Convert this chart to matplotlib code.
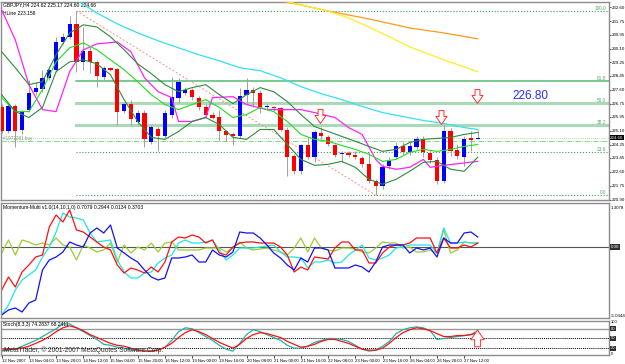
import numpy as np
import matplotlib.pyplot as plt
from matplotlib.path import Path

plt.rcParams['font.family'] = ['Liberation Sans', 'DejaVu Sans']

# GBPJPY H4 bars (open, high, low, close)
opens = [226.51, 225.05, 226.63, 225.17, 226.38, 227.47, 227.66, 228.32, 228.81, 230.50,
         230.81, 231.60, 229.29, 229.96, 229.29, 228.38, 228.93, 228.87, 226.32, 226.75,
         225.60, 226.20, 224.38, 225.23, 224.75, 226.08, 227.11, 227.41, 227.60, 227.11,
         226.57, 226.08, 225.96, 225.05, 224.87, 224.75, 227.29, 227.60, 227.41, 226.51,
         226.57, 226.45, 225.17, 223.54, 222.63, 224.20, 223.48, 224.93, 224.69, 224.20,
         223.66, 223.72, 223.60, 223.42, 223.05, 222.02, 221.72, 222.93, 223.48, 224.14,
         223.78, 224.08, 224.57, 223.72, 223.29, 222.02, 225.05, 223.90, 223.48, 224.63,
         224.62]
highs = [226.75, 226.75, 226.75, 226.38, 228.20, 228.08, 228.81, 229.05, 230.81, 231.05,
         232.08, 232.38, 231.41, 230.20, 229.41, 229.05, 228.99, 228.93, 226.81, 226.99,
         226.38, 226.38, 225.47, 225.35, 226.38, 228.38, 228.32, 227.78, 227.72, 227.23,
         226.75, 226.26, 226.38, 225.17, 224.99, 227.72, 228.32, 227.78, 227.60, 226.75,
         226.63, 226.57, 225.35, 223.66, 224.26, 224.69, 225.17, 225.35, 224.81, 224.26,
         223.84, 223.84, 223.84, 223.54, 223.78, 222.14, 223.05, 223.48, 224.38, 224.38,
         224.38, 224.75, 224.75, 223.90, 223.48, 225.47, 225.29, 224.26, 224.75, 225.05,
         225.17]
lows = [224.93, 224.93, 224.08, 224.87, 226.26, 227.29, 227.47, 228.20, 228.69, 230.38,
        230.69, 228.69, 228.81, 228.63, 227.78, 228.20, 228.75, 225.47, 226.20, 225.47,
        225.47, 224.08, 224.26, 223.84, 224.63, 225.90, 226.81, 227.29, 226.99, 226.38,
        225.90, 225.78, 224.45, 224.45, 224.20, 224.63, 226.81, 226.57, 226.20, 226.38,
        226.32, 225.05, 222.32, 222.45, 222.45, 223.35, 223.17, 224.57, 224.14, 223.48,
        223.17, 223.48, 223.35, 222.87, 221.90, 221.17, 221.54, 222.75, 223.35, 223.60,
        223.60, 223.96, 223.48, 223.11, 221.84, 221.90, 223.54, 223.35, 222.93, 223.84,
        224.60]
closes = [225.05, 226.63, 225.05, 226.26, 227.41, 227.72, 228.32, 228.81, 230.50, 230.81,
          231.60, 229.29, 229.96, 229.29, 228.44, 228.93, 228.81, 226.26, 226.75, 225.78,
          226.20, 224.57, 225.35, 224.75, 226.20, 227.17, 228.08, 227.60, 227.17, 226.57,
          226.08, 225.90, 225.05, 224.81, 224.75, 227.23, 227.60, 227.41, 226.57, 226.63,
          226.45, 225.17, 223.48, 222.63, 224.20, 223.48, 224.99, 224.75, 224.26, 223.60,
          223.72, 223.60, 223.48, 223.05, 222.02, 221.72, 222.87, 223.23, 224.14, 223.78,
          224.14, 224.57, 223.78, 223.29, 222.02, 225.05, 223.84, 223.54, 224.57, 224.51,
          224.66]

# band lines (every second bar)
band_bars = list(range(0, 71, 2))
band_upper = [229.90, 228.93, 227.90, 228.08, 229.72, 231.05, 231.54, 231.41, 230.81, 230.02,
              229.17, 228.57, 227.90, 227.47, 227.72, 227.90, 227.29, 226.75, 227.29, 227.72,
              227.47, 226.87, 226.08, 225.35, 225.05, 224.75, 224.45, 224.14, 223.84, 223.96,
              224.38, 224.57, 224.63, 224.69, 224.87, 224.99]
band_mid = [227.11, 226.26, 226.26, 227.60, 229.29, 230.14, 230.44, 230.02, 229.41, 228.81,
            228.08, 227.29, 226.69, 226.38, 226.69, 226.99, 226.51, 225.90, 226.08, 226.51,
            226.26, 225.66, 224.87, 224.57, 224.45, 224.20, 223.96, 223.66, 223.23, 223.35,
            223.78, 223.96, 223.84, 223.96, 224.14, 224.26]
band_lower = [227.29, 226.26, 225.90, 226.51, 228.69, 229.29, 229.41, 229.17, 228.50, 226.99,
              225.66, 224.69, 224.57, 225.05, 225.66, 225.90, 225.47, 224.69, 224.57, 225.17,
              225.17, 224.26, 223.35, 222.99, 223.05, 223.23, 222.87, 222.14, 221.84, 222.14,
              222.63, 223.17, 223.23, 222.75, 222.63, 223.48]

magenta_bars = [0, 2, 4, 6, 8, 10, 12, 14, 17, 19, 21, 23, 25, 26, 28, 30, 31, 34, 36, 39,
                44, 46, 49, 51, 53, 55, 56, 58, 60, 62, 63, 65, 70]
magenta_vals = [232.44, 230.63, 227.90, 226.38, 226.26, 228.69, 230.02, 230.38, 230.50, 229.90,
                228.32, 227.47, 227.11, 225.66, 225.66, 225.90, 227.11, 227.17, 226.69, 226.38,
                226.38, 226.20, 225.90, 225.29, 224.87, 223.35, 222.93, 222.75, 222.87, 223.35,
                222.87, 222.99, 223.23]

cyan_bars = [10, 11, 14, 17, 20, 23, 26, 29, 32, 35, 38, 41, 44, 47, 50, 53, 56, 59, 62, 65, 68, 70]
cyan_vals = [233.53, 233.05, 232.26, 231.60, 231.05, 230.57, 230.14, 229.72, 229.35, 228.93,
             228.75, 228.32, 227.78, 227.35, 226.99, 226.57, 226.20, 225.96, 225.72, 225.54,
             225.29, 225.17]

orange_bars = [38, 41, 44, 48, 54, 60, 65, 70]
orange_vals = [233.23, 232.99, 232.75, 232.38, 231.90, 231.35, 231.05, 230.69]

yellow_bars = [40, 44, 48, 51, 54, 57, 60, 65, 70]
yellow_vals = [233.17, 232.75, 232.38, 231.96, 231.41, 230.81, 230.20, 229.41, 228.69]

price_ticks = [232.60, 231.75, 230.95, 230.10, 229.25, 228.45, 227.60, 226.75,
               225.95, 225.10, 224.25, 223.45, 222.60, 221.75, 220.90]

fib_high, fib_high_bar = 232.38, 11
fib_low, fib_low_bar = 221.17, 55
fib_ratios = [1.0, 0.618, 0.5, 0.382, 0.236, 0.0]
fib_names = ['100.0', '61.8', '50.0', '38.2', '23.6', '0.0']

bid = 224.66
order_price = 224.45
arrow_bars = [46.8, 64.6, 69.9]
arrow_prices = [225.99, 225.93, 227.23]

# Momentum-Multi lines
mom_red = [-1.72, -1.20, -1.60, -1.00, -0.72, -0.40, -0.32, 0.80, 1.28, 1.00,
           1.48, 0.68, 0.60, 0.40, 0.20, 0.00, -0.12, -0.72, -1.04, -0.84,
           -0.92, -1.04, -0.80, -1.00, -0.60, 0.20, 0.40, 0.36, 0.48, 0.40,
           0.16, 0.28, -0.24, -0.32, 0.00, 0.16, 0.20, 0.20, 0.16, 0.16,
           0.16, 0.00, -0.32, -1.00, -0.80, -0.92, -0.40, -0.44, -0.48, -0.04,
           0.20, 0.20, -0.12, -0.12, -0.64, -0.64, -0.24, 0.00, 0.08, 0.08,
           0.16, 0.36, 0.36, 0.36, -0.24, 0.36, -0.04, -0.04, 0.08, 0.00, 0.16]
mom_cyan = [-2.72, -2.32, -1.72, -1.32, -1.12, -0.92, -0.40, 0.00, 0.60, 1.36,
            1.20, 1.16, 1.08, 0.56, 0.20, 0.24, 0.28, -0.52, -1.00, -1.24,
            -1.24, -1.04, -1.00, -0.64, -0.44, -0.32, 0.16, 0.28, 0.16, 0.16,
            0.20, 0.28, -0.12, -0.52, -0.32, -0.04, -0.04, -0.04, 0.00, 0.04,
            0.08, -0.20, -0.40, -0.40, -0.44, -0.84, -0.60, -0.60, -0.52, -0.64,
            -0.60, -0.32, -0.12, 0.08, -0.44, -0.52, -0.44, -0.32, -0.04, 0.00,
            0.08, 0.08, 0.08, 0.08, -0.24, 0.76, 0.16, 0.16, 0.20, 0.16, 0.16]
mom_blue = [-2.72, -2.52, -2.44, -2.60, -2.24, -2.12, -0.92, -0.52, -0.40, -0.20,
            0.20, 0.08, 0.00, 0.56, 0.76, 0.56, 0.88, -0.04, -0.24, -0.44,
            -0.60, -0.92, -1.20, -1.32, -1.24, -0.44, -0.44, -0.40, -0.32, -0.60,
            -0.60, -0.12, -0.32, -0.40, -0.20, 0.60, 0.56, 0.56, 0.36, 0.08,
            -0.24, -0.44, -0.72, -0.92, -0.44, -0.60, -0.04, -0.04, -0.12, -0.84,
            -0.84, -0.84, -0.72, -0.80, -1.00, -0.60, 0.00, 0.08, 0.08, 0.08,
            -0.24, -0.04, -0.12, -0.04, -0.40, 0.36, 0.16, 0.16, 0.56, 0.60, 0.40]
mom_olive = [-0.24, 0.28, -0.32, 0.28, 0.20, 0.08, 0.16, 0.08, 0.36, 0.08,
             0.00, -0.52, 0.08, -0.04, -0.20, -0.12, 0.16, -0.60, 0.08, -0.24,
             0.00, -0.12, 0.16, -0.20, 0.16, 0.20, -0.12, -0.12, -0.12, -0.12,
             -0.04, -0.04, -0.04, -0.20, -0.04, 0.20, -0.04, -0.12, -0.08, -0.04,
             -0.12, -0.20, -0.32, -0.04, 0.36, -0.20, 0.36, -0.04, -0.12, -0.16,
             -0.04, -0.04, -0.08, -0.20, -0.24, -0.04, 0.20, 0.16, 0.16, -0.04,
             0.00, -0.20, -0.20, -0.12, -0.24, 0.68, -0.24, -0.12, 0.20, 0.16, 0.16]

# Stochastic(8,3,3)
stoch_main = [11, 14, 17, 26, 35, 44, 56, 68, 80, 95, 95, 83, 71, 59, 47, 32, 29, 23, 20, 14,
              14, 11, 11, 14, 23, 44, 71, 83, 80, 68, 56, 44, 29, 17, 11, 35, 62, 77, 71, 62,
              53, 44, 29, 20, 20, 26, 38, 44, 50, 50, 47, 41, 29, 17, 11, 14, 26, 41, 65, 77,
              83, 86, 83, 74, 47, 50, 53, 56, 59, 62, 74]
stoch_signal = [14, 17, 17, 20, 26, 35, 44, 56, 71, 83, 89, 83, 74, 62, 53, 44, 35, 29, 26, 20,
                14, 11, 11, 14, 23, 35, 53, 68, 77, 71, 62, 50, 38, 29, 20, 32, 50, 62, 68, 65,
                59, 53, 41, 32, 23, 26, 32, 41, 47, 47, 41, 35, 26, 17, 14, 14, 20, 35, 53, 68,
                77, 83, 80, 74, 65, 56, 56, 59, 59, 62, 68]

date_labels = ['12 Nov 2007', '13 Nov 04:00', '13 Nov 20:00', '14 Nov 12:00', '15 Nov 04:00',
               '15 Nov 20:00', '16 Nov 12:00', '19 Nov 00:00', '19 Nov 16:00', '20 Nov 08:00',
               '21 Nov 00:00', '21 Nov 16:00', '22 Nov 08:00', '23 Nov 00:00', '23 Nov 16:00',
               '26 Nov 04:00', '26 Nov 20:00', '27 Nov 12:00']

W, H = 625, 364
fs = 3.6
frame = '#8c8c8c'


def box(top, bottom, left=1, right=609):
    return [left / W, 1 - bottom / H, (right - left) / W, (bottom - top) / H]


fig = plt.figure(figsize=(W / 100, H / 100), dpi=100)
ax = fig.add_axes(box(2, 200))
axm = fig.add_axes(box(203, 318), sharex=ax)
axs = fig.add_axes(box(321, 355), sharex=ax)

bars = np.arange(len(closes))
o, h, l, c = map(np.array, (opens, highs, lows, closes))

# fibonacci levels
span = fib_high - fib_low
fib_styles = [(':', '#3c9a55', 0.8), ('-', '#55bb70', 1.1), ('-', '#a8dab5', 2.2),
              ('-', '#a8dab5', 2.2), (':', '#3c9a55', 0.8), (':', '#3c9a55', 0.8)]
for r, name, (ls, col, lw) in zip(fib_ratios, fib_names, fib_styles):
    lev = fib_low + r * span
    ax.plot([fib_high_bar, 90], [lev, lev], ls=ls, color=col, lw=lw, zorder=1)
    ax.text(88.9, lev, name, ha='right', va='bottom', fontsize=3.4, color='#55aa66', zorder=6)
ax.plot([fib_high_bar, fib_low_bar], [fib_high, fib_low], ls=(0, (2, 2)), color='#ff8c8c',
        lw=0.7, zorder=1)

# bid and order lines
ax.axhline(bid, color='#b4b4b4', ls=(0, (1, 1.5)), lw=0.6, zorder=1)
ax.axhline(order_price, color='#66dd66', ls='-.', lw=0.6, zorder=1)
ax.text(0.2, order_price + 0.05, '#1972261 buy', fontsize=3.3, color='#7a9a7a', va='bottom')

# candles
up = c >= o
ax.vlines(bars, l, h, color='#a0a0a0', lw=0.7, zorder=2)
body_lo = np.minimum(o, c)
body_h = np.maximum(np.abs(c - o), 0.05)
ax.bar(bars[up], body_h[up], bottom=body_lo[up], width=0.62, color='#0000ff', zorder=3)
ax.bar(bars[~up], body_h[~up], bottom=body_lo[~up], width=0.62, color='#ff0000', zorder=3)

# moving averages / bands
ax.plot(cyan_bars, cyan_vals, color='#33e0f0', lw=0.9, zorder=4)
ax.plot(orange_bars, orange_vals, color='#ff9a1a', lw=0.9, zorder=4)
ax.plot(yellow_bars, yellow_vals, color='#ffee22', lw=0.9, zorder=4)
ax.plot(magenta_bars, magenta_vals, color='#ff22ff', lw=0.9, zorder=4)
ax.plot(band_bars, band_upper, color='#2e8b3a', lw=0.8, zorder=4)
ax.plot(band_bars, band_mid, color='#22dd22', lw=0.8, zorder=4)
ax.plot(band_bars, band_lower, color='#2e8b3a', lw=0.8, zorder=4)

# arrows
down = Path([(-0.35, 1), (0.35, 1), (0.35, 0.15), (0.8, 0.15), (0, -1),
             (-0.8, 0.15), (-0.35, 0.15), (-0.35, 1)], closed=True)
ax.plot(arrow_bars, arrow_prices, ls='none', marker=down, markersize=10,
        markerfacecolor='white', markeredgecolor='#ff3030', markeredgewidth=0.7, zorder=6)
ax.text(77.7, 227.2, '226.80', color='#2a2aff', fontsize=8.5, ha='center', va='center')

ax.text(0.003, 0.997, 'GBPJPY,H4 224.62 225.17 224.60 224.66', transform=ax.transAxes,
        fontsize=fs, va='top', ha='left')
ax.text(0.003, 0.957, 'HLine 223.158', transform=ax.transAxes, fontsize=fs,
        va='top', ha='left')

ax.set_xlim(-0.1, 89.3)
ax.set_ylim(220.88, 232.93)
ax.yaxis.tick_right()
ax.set_yticks(price_ticks)
ax.set_yticklabels(['%.2f' % p for p in price_ticks])
ax.text(1.002, bid, '%.2f' % bid, transform=ax.get_yaxis_transform(), fontsize=3.2,
        color='white', va='center', ha='left',
        bbox=dict(facecolor='black', edgecolor='none', pad=0.4), zorder=7)

# momentum panel
axm.axhline(0, color='#555555', lw=0.8)
axm.plot(bars, mom_olive, color='#9acd32', lw=0.9)
axm.plot(bars, mom_cyan, color='#22e5e5', lw=0.9)
axm.plot(bars, mom_red, color='#ff1010', lw=0.9)
axm.plot(bars, mom_blue, color='#1010ff', lw=0.9)
axm.set_ylim(-2.84, 1.76)
axm.set_yticks([])
axm.text(0.003, 0.985, 'Momentum-Multi v1.0(14,10,1,0) 0.7079 0.2944 0.0134 0.3703',
         transform=axm.transAxes, fontsize=fs, va='top', ha='left')
axm.text(1.003, 0.97, '1.3078', transform=axm.transAxes, fontsize=3.2, va='top')
axm.text(1.003, 0, '0.00', transform=axm.get_yaxis_transform(), fontsize=3.2, va='center',
         color='white', bbox=dict(facecolor='#303030', edgecolor='none', pad=0.4))
axm.text(1.003, 0.0, '-5.0344', transform=axm.transAxes, fontsize=3.2, va='bottom')

# stochastic panel
axs.axhline(80, color='#9a9a9a', lw=1.0)
axs.axhline(50, color='black', ls=(0, (1, 1)), lw=0.7)
axs.axhline(20, color='black', ls=(0, (1, 1)), lw=0.7)
axs.plot(bars, stoch_main, color='#20b2aa', lw=0.9)
axs.plot(bars, stoch_signal, color='#ff1010', lw=0.9)
up_arrow = Path([(-0.35, -1), (0.35, -1), (0.35, -0.15), (0.8, -0.15), (0, 1),
                 (-0.8, -0.15), (-0.35, -0.15), (-0.35, -1)], closed=True)
axs.plot([69.9], [50], ls='none', marker=up_arrow, markersize=12, markerfacecolor='white',
         markeredgecolor='#ff3030', markeredgewidth=0.7, zorder=6)
axs.set_ylim(-1, 104)
axs.set_yticks([])
axs.text(0.003, 0.97, 'Stoch(8,3,3) 74.2837 68.2411', transform=axs.transAxes,
         fontsize=fs, va='top', ha='left')
for lev in (80, 50, 20):
    axs.text(1.003, lev, str(lev), transform=axs.get_yaxis_transform(), fontsize=3.0,
             va='center', color='white',
             bbox=dict(facecolor='#303030', edgecolor='none', pad=0.3))
axs.text(1.003, 100, '100', transform=axs.get_yaxis_transform(), fontsize=3.0, va='center')
axs.text(1.003, 2, '0', transform=axs.get_yaxis_transform(), fontsize=3.0, va='center')
fig.text(4 / W, 1 - 354 / H, 'MetaTrader, \u00a9 2001-2007 MetaQuotes Software Corp.',
         fontsize=4.8, color='#303030', va='bottom')

axs.set_xticks(range(0, 71, 4))
axs.set_xticklabels(date_labels)
for lbl in axs.get_xticklabels():
    lbl.set_ha('left')

for a in (ax, axm, axs):
    for s in a.spines.values():
        s.set_color(frame)
        s.set_linewidth(1.0)
    a.tick_params(axis='both', labelsize=3.2, length=1.2, pad=0.5, width=0.5, colors='black')
ax.tick_params(axis='x', bottom=False, labelbottom=False)
axm.tick_params(axis='x', bottom=False, labelbottom=False)
axs.tick_params(axis='x', length=2, pad=0.8, labelsize=3.1)

fig.savefig('out.png', dpi=100, facecolor='white')
